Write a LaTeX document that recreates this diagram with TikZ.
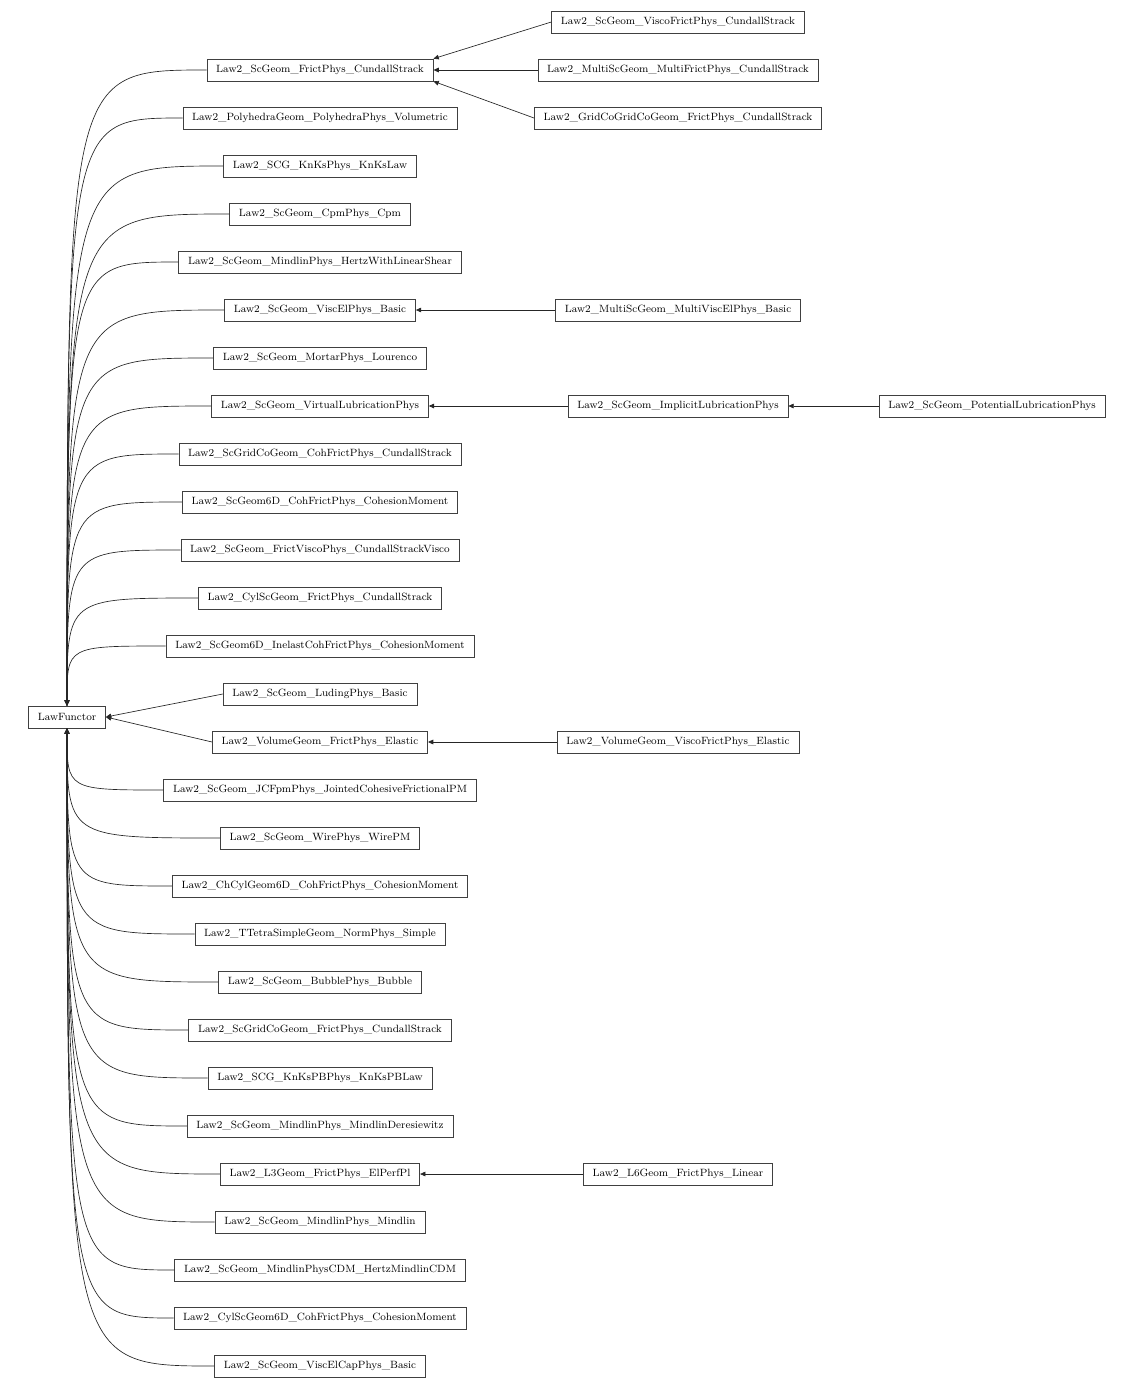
\documentclass[tikz,border=0pt]{standalone}
\usepackage{tikz}
\usetikzlibrary{calc, arrows.meta}

\begin{document}
\begin{tikzpicture}[x=.75pt, y=-.75pt]
    \tikzstyle{cls} = [rectangle, draw=black!75, line width=.5pt, inner xsep=7pt, minimum height=16.5pt, font=\fontsize{7.9}{9}\selectfont]
    \tikzstyle{inh} = [draw=black!85, line width=.5pt, -{Triangle[length=4pt, width=3.5pt]}]

    \useasboundingbox (0, 0) rectangle (1135, 1388);

    % Base class ----------------------------------------
    \node (lf) at (67, 717) [cls] {LawFunctor};

    % Direct children -----------------------------------
    \node (L1) at (320, 70) [cls] {Law2\_ScGeom\_FrictPhys\_CundallStrack};
    \node (L2) at (320, 118) [cls] {Law2\_PolyhedraGeom\_PolyhedraPhys\_Volumetric};
    \node (L3) at (320, 166) [cls] {Law2\_SCG\_KnKsPhys\_KnKsLaw};
    \node (L4) at (320, 214) [cls] {Law2\_ScGeom\_CpmPhys\_Cpm};
    \node (L5) at (320, 262) [cls] {Law2\_ScGeom\_MindlinPhys\_HertzWithLinearShear};
    \node (L6) at (320, 310) [cls] {Law2\_ScGeom\_ViscElPhys\_Basic};
    \node (L7) at (320, 358) [cls] {Law2\_ScGeom\_MortarPhys\_Lourenco};
    \node (L8) at (320, 406) [cls] {Law2\_ScGeom\_VirtualLubricationPhys};
    \node (L9) at (320, 454) [cls] {Law2\_ScGridCoGeom\_CohFrictPhys\_CundallStrack};
    \node (L10) at (320, 502) [cls] {Law2\_ScGeom6D\_CohFrictPhys\_CohesionMoment};
    \node (L11) at (320, 550) [cls] {Law2\_ScGeom\_FrictViscoPhys\_CundallStrackVisco};
    \node (L12) at (320, 598) [cls] {Law2\_CylScGeom\_FrictPhys\_CundallStrack};
    \node (L13) at (320, 646) [cls] {Law2\_ScGeom6D\_InelastCohFrictPhys\_CohesionMoment};
    \node (L14) at (320, 694) [cls] {Law2\_ScGeom\_LudingPhys\_Basic};
    \node (L15) at (320, 742) [cls] {Law2\_VolumeGeom\_FrictPhys\_Elastic};
    \node (L16) at (320, 790) [cls] {Law2\_ScGeom\_JCFpmPhys\_JointedCohesiveFrictionalPM};
    \node (L17) at (320, 838) [cls] {Law2\_ScGeom\_WirePhys\_WirePM};
    \node (L18) at (320, 886) [cls] {Law2\_ChCylGeom6D\_CohFrictPhys\_CohesionMoment};
    \node (L19) at (320, 934) [cls] {Law2\_TTetraSimpleGeom\_NormPhys\_Simple};
    \node (L20) at (320, 982) [cls] {Law2\_ScGeom\_BubblePhys\_Bubble};
    \node (L21) at (320, 1030) [cls] {Law2\_ScGridCoGeom\_FrictPhys\_CundallStrack};
    \node (L22) at (320, 1078) [cls] {Law2\_SCG\_KnKsPBPhys\_KnKsPBLaw};
    \node (L23) at (320, 1126) [cls] {Law2\_ScGeom\_MindlinPhys\_MindlinDeresiewitz};
    \node (L24) at (320, 1174) [cls] {Law2\_L3Geom\_FrictPhys\_ElPerfPl};
    \node (L25) at (320, 1222) [cls] {Law2\_ScGeom\_MindlinPhys\_Mindlin};
    \node (L26) at (320, 1270) [cls] {Law2\_ScGeom\_MindlinPhysCDM\_HertzMindlinCDM};
    \node (L27) at (320, 1318) [cls] {Law2\_CylScGeom6D\_CohFrictPhys\_CohesionMoment};
    \node (L28) at (320, 1366) [cls] {Law2\_ScGeom\_ViscElCapPhys\_Basic};

    % Second and third level ----------------------------
    \node (M1) at (678, 22) [cls] {Law2\_ScGeom\_ViscoFrictPhys\_CundallStrack};
    \node (M2) at (678, 70) [cls] {Law2\_MultiScGeom\_MultiFrictPhys\_CundallStrack};
    \node (M3) at (678, 118) [cls] {Law2\_GridCoGridCoGeom\_FrictPhys\_CundallStrack};
    \node (M4) at (678, 310) [cls] {Law2\_MultiScGeom\_MultiViscElPhys\_Basic};
    \node (M5) at (678, 406) [cls] {Law2\_ScGeom\_ImplicitLubricationPhys};
    \node (M6) at (678, 742) [cls] {Law2\_VolumeGeom\_ViscoFrictPhys\_Elastic};
    \node (M7) at (678, 1174) [cls] {Law2\_L6Geom\_FrictPhys\_Linear};
    \node (P1) at (992, 406) [cls] {Law2\_ScGeom\_PotentialLubricationPhys};
    % ---------------------------------------------------

    % Edges to the base class
    \foreach \i in {1,...,13}
        \draw [inh] (L\i.west) .. controls (lf.north |- L\i.west) .. (lf.north);
    \draw [inh] (L14.west) -- (lf.east);
    \draw [inh] (L15.west) -- (lf.east);
    \foreach \i in {16,...,28}
        \draw [inh] (L\i.west) .. controls (lf.south |- L\i.west) .. (lf.south);

    % Edges between the other classes
    \draw [inh] (M1.west) -- (L1.north east);
    \draw [inh] (M2.west) -- (L1.east);
    \draw [inh] (M3.west) -- (L1.south east);
    \draw [inh] (M4) -- (L6);
    \draw [inh] (M5) -- (L8);
    \draw [inh] (P1) -- (M5);
    \draw [inh] (M6) -- (L15);
    \draw [inh] (M7) -- (L24);
\end{tikzpicture}
\end{document}
